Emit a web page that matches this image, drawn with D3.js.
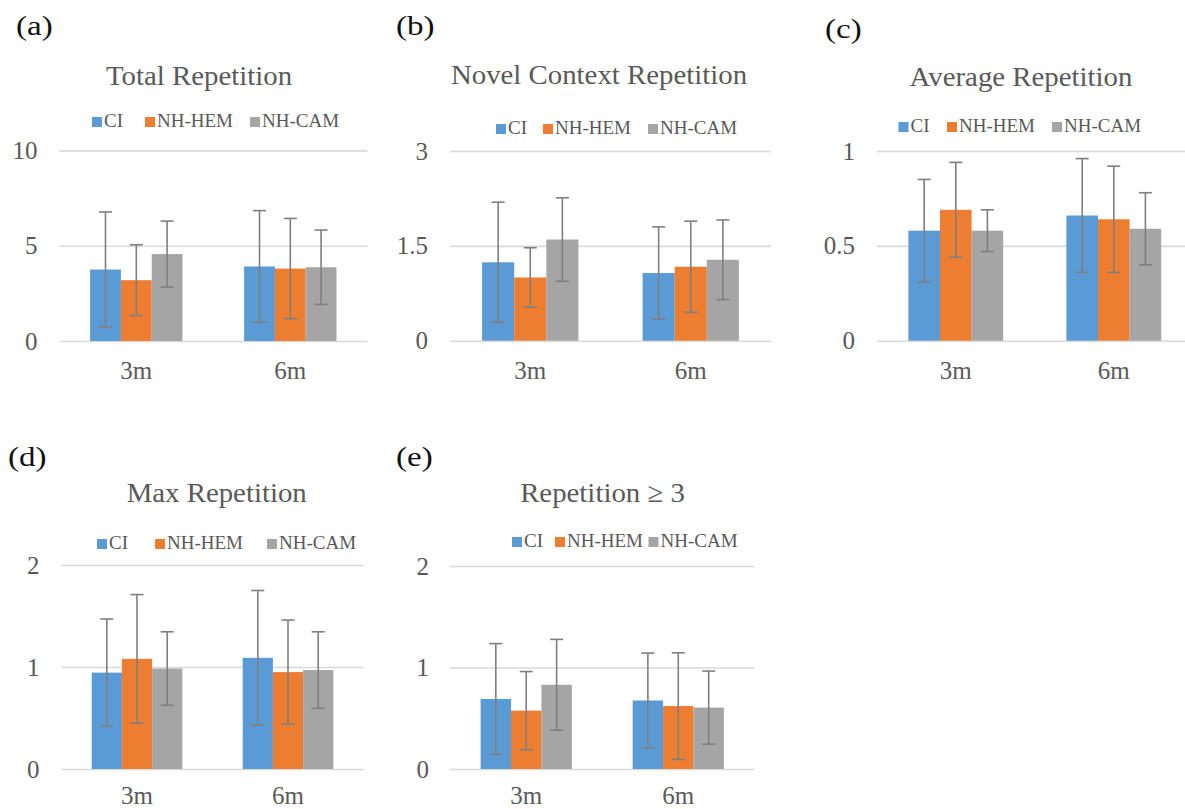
<!DOCTYPE html>
<html>
<head>
<meta charset="utf-8">
<script src="https://cdn.jsdelivr.net/npm/d3@7"></script>
<style>
  html, body { margin: 0; padding: 0; background: #fff; }
  svg { display: block; }
  text { font-family: "Liberation Serif", "Times New Roman", serif; }
</style>
</head>
<body>
<svg id="chart" width="1185" height="809"></svg>
<script>
// ---------------- DATA ----------------
const categories = ["3m", "6m"];
const seriesNames = ["CI", "NH-HEM", "NH-CAM"];
const seriesColors = ["#5B9BD5", "#ED7D31", "#A5A5A5"];

const panelLetters = ["(a)", "(b)", "(c)", "(d)", "(e)"];
const panelTitles = ["Total Repetition", "Novel Context Repetition", "Average Repetition", "Max Repetition", "Repetition \u2265 3"];

// values: [category][series]  (CI, NH-HEM, NH-CAM)
const totalRepMean = [[3.75, 3.19, 4.56], [3.91, 3.80, 3.87]];
const totalRepSD   = [[3.02, 1.86, 1.73], [2.93, 2.63, 1.95]];

const novelRepMean = [[1.24, 1.00, 1.60], [1.07, 1.17, 1.28]];
const novelRepSD   = [[0.95, 0.47, 0.66], [0.73, 0.72, 0.63]];

const avgRepMean = [[0.58, 0.69, 0.58], [0.66, 0.64, 0.59]];
const avgRepSD   = [[0.27, 0.25, 0.11], [0.30, 0.28, 0.19]];

const maxRepMean = [[0.945, 1.08, 0.985], [1.09, 0.95, 0.97]];
const maxRepSD   = [[0.525, 0.63, 0.36], [0.66, 0.51, 0.375]];

const rep3Mean = [[0.69, 0.575, 0.83], [0.675, 0.62, 0.605]];
const rep3SD   = [[0.545, 0.385, 0.447], [0.467, 0.525, 0.36]];

const totalTicks = [0, 5, 10];
const novelTicks = [0, 1.5, 3];
const avgTicks   = [0, 0.5, 1];
const maxTicks   = [0, 1, 2];
const rep3Ticks  = [0, 1, 2];

const panelMeans = [totalRepMean, novelRepMean, avgRepMean, maxRepMean, rep3Mean];
const panelSDs   = [totalRepSD, novelRepSD, avgRepSD, maxRepSD, rep3SD];
const panelTicks = [totalTicks, novelTicks, avgTicks, maxTicks, rep3Ticks];

// ---------------- LAYOUT ----------------
const layout = [
  { x1: 59.3, x2: 367.3, yTop: 150.4, yBot: 341, labelX: 16, labelY: 35, titleX: 199, titleY: 85,
    legY: 127, legX: [92, 145, 250], tickX: 37.5, catY: 379 },
  { x1: 450, x2: 771, yTop: 151, yBot: 340.7, labelX: 396, labelY: 35, titleX: 599, titleY: 84,
    legY: 134, legX: [496, 543, 648], tickX: 428, catY: 379 },
  { x1: 876.8, x2: 1192.8, yTop: 151, yBot: 340.7, labelX: 825, labelY: 38, titleX: 1021, titleY: 86,
    legY: 132, legX: [898.5, 947, 1052], tickX: 855, catY: 379 },
  { x1: 61.5, x2: 363.5, yTop: 565, yBot: 769, labelX: 8, labelY: 466, titleX: 216.7, titleY: 502,
    legY: 549, legX: [97, 155, 267], tickX: 39.5, catY: 804 },
  { x1: 450.2, x2: 754.3, yTop: 566, yBot: 769, labelX: 396, labelY: 466, titleX: 602.5, titleY: 502,
    legY: 547, legX: [512, 555, 648.5], tickX: 429, catY: 804 }
];

const textGray = "#595959";
const gridColor = "#D9D9D9";
const errColor = "#7F7F7F";

const svg = d3.select("#chart");

function stretchedText(g, x, y, str, size, sx, anchor, fill) {
  return g.append("text")
    .attr("transform", `translate(${x},${y}) scale(${sx},1)`)
    .attr("text-anchor", anchor).attr("font-size", size).attr("fill", fill)
    .text(str);
}

panelMeans.forEach((means, pi) => {
  const L = layout[pi];
  const sds = panelSDs[pi];
  const ticks = panelTicks[pi];
  const g = svg.append("g");

  const x0 = d3.scaleBand().domain(categories).range([L.x1, L.x2])
    .paddingInner(0.4).paddingOuter(0.2);
  const x1 = d3.scaleBand().domain(seriesNames).range([0, x0.bandwidth()]);
  const y = d3.scaleLinear().domain([0, d3.max(ticks)]).range([L.yBot, L.yTop]);

  // panel letter
  stretchedText(g, L.labelX, L.labelY, panelLetters[pi], 28, 1.18, "start", "#111");

  // title
  stretchedText(g, L.titleX, L.titleY, panelTitles[pi], 28, 1.03, "middle", textGray);

  // legend
  seriesNames.forEach((s, si) => {
    g.append("rect").attr("x", L.legX[si]).attr("y", L.legY - 10)
      .attr("width", 10).attr("height", 10).attr("fill", seriesColors[si]);
    g.append("text").attr("x", L.legX[si] + 12).attr("y", L.legY)
      .attr("font-size", 19).attr("fill", textGray).text(s);
  });

  // y axis (gridlines + labels) via d3 axis
  const yAxis = d3.axisLeft(y).tickValues(ticks).tickSize(-(L.x2 - L.x1))
    .tickPadding(L.x1 - L.tickX).tickFormat(d => String(d));
  const ya = g.append("g").attr("transform", `translate(${L.x1},0)`).call(yAxis);
  ya.select(".domain").remove();
  ya.selectAll(".tick line").attr("stroke", gridColor).attr("stroke-width", 1.6);
  ya.selectAll(".tick text").attr("font-size", 25).attr("fill", textGray)
    .attr("font-family", "'Liberation Serif', 'Times New Roman', serif");

  // bars
  categories.forEach((c, ci) => {
    seriesNames.forEach((s, si) => {
      const v = means[ci][si];
      const bx = x0(c) + x1(s);
      g.append("rect").attr("x", bx).attr("y", y(v))
        .attr("width", x1.bandwidth()).attr("height", y(0) - y(v))
        .attr("fill", seriesColors[si]);
    });
  });

  // error bars
  categories.forEach((c, ci) => {
    seriesNames.forEach((s, si) => {
      const v = means[ci][si], e = sds[ci][si];
      const cx = x0(c) + x1(s) + x1.bandwidth() / 2;
      const yt = y(v + e), yb = y(v - e);
      const cap = 6.5;
      g.append("line").attr("x1", cx).attr("x2", cx).attr("y1", yt).attr("y2", yb)
        .attr("stroke", errColor).attr("stroke-width", 1.6);
      [yt, yb].forEach(yy => {
        g.append("line").attr("x1", cx - cap).attr("x2", cx + cap).attr("y1", yy).attr("y2", yy)
          .attr("stroke", errColor).attr("stroke-width", 1.6);
      });
    });
  });

  // category labels via bottom axis
  const xAxis = d3.axisBottom(x0).tickSize(0).tickPadding(0);
  const xa = g.append("g").attr("transform", `translate(0,${L.catY})`).call(xAxis);
  xa.select(".domain").remove();
  xa.selectAll(".tick text").attr("font-size", 25).attr("fill", textGray)
    .attr("dy", 0).attr("y", 0)
    .attr("font-family", "'Liberation Serif', 'Times New Roman', serif");
});
</script>
</body>
</html>
